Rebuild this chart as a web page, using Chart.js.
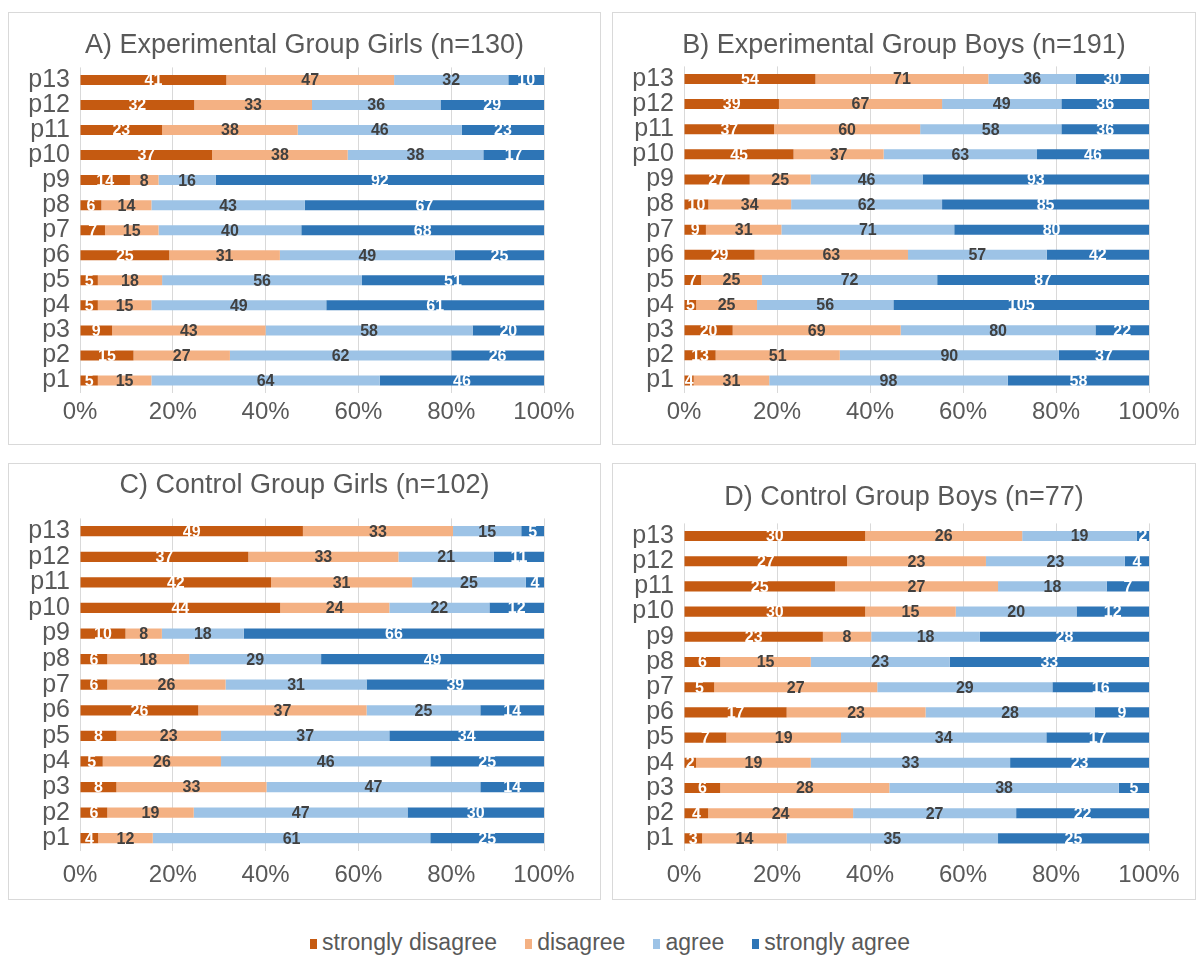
<!DOCTYPE html>
<html>
<head>
<meta charset="utf-8">
<script src="https://cdn.jsdelivr.net/npm/chart.js@4.4.1/dist/chart.umd.min.js"></script>
<style>
  body { margin: 0; background: #fff; width: 1196px; height: 956px; position: relative; overflow: hidden;
         font-family: "Liberation Sans", Arial, sans-serif; }
  .panel { position: absolute; border: 1px solid #d9d9d9; box-sizing: border-box; }
  .panel canvas { display: block; }
  #legend { position: absolute; left: 0; width: 1220px; top: 929px; display: flex; justify-content: center;
            gap: 28px; font-size: 23px; color: #595959; }
  #legend span.key { display: inline-block; width: 7px; height: 10px; margin-right: 5px; vertical-align: 1px; }
</style>
</head>
<body>
<div class="panel" id="pA" style="left:8px;top:12px;width:593px;height:433px"><canvas id="cA" width="591" height="431"></canvas></div>
<div class="panel" id="pB" style="left:612px;top:12px;width:584px;height:433px"><canvas id="cB" width="582" height="431"></canvas></div>
<div class="panel" id="pC" style="left:8px;top:463px;width:593px;height:437px"><canvas id="cC" width="591" height="435"></canvas></div>
<div class="panel" id="pD" style="left:612px;top:463px;width:584px;height:437px"><canvas id="cD" width="582" height="435"></canvas></div>
<div id="legend"></div>
<script>
// items p1..p13 (p1 drawn at the bottom)
const items = ['p1', 'p2', 'p3', 'p4', 'p5', 'p6', 'p7', 'p8', 'p9', 'p10', 'p11', 'p12', 'p13'];
const answers = ['strongly disagree', 'disagree', 'agree', 'strongly agree'];
const xTicks = [0, 20, 40, 60, 80, 100];

// A) Experimental Group Girls (n=130)
const expGirlsSD = [5, 15, 9, 5, 5, 25, 7, 6, 14, 37, 23, 32, 41];
const expGirlsD  = [15, 27, 43, 15, 18, 31, 15, 14, 8, 38, 38, 33, 47];
const expGirlsA  = [64, 62, 58, 49, 56, 49, 40, 43, 16, 38, 46, 36, 32];
const expGirlsSA = [46, 26, 20, 61, 51, 25, 68, 67, 92, 17, 23, 29, 10];

// B) Experimental Group Boys (n=191)
const expBoysSD = [4, 13, 20, 5, 7, 29, 9, 10, 27, 45, 37, 39, 54];
const expBoysD  = [31, 51, 69, 25, 25, 63, 31, 34, 25, 37, 60, 67, 71];
const expBoysA  = [98, 90, 80, 56, 72, 57, 71, 62, 46, 63, 58, 49, 36];
const expBoysSA = [58, 37, 22, 105, 87, 42, 80, 85, 93, 46, 36, 36, 30];

// C) Control Group Girls (n=102)
const ctlGirlsSD = [4, 6, 8, 5, 8, 26, 6, 6, 10, 44, 42, 37, 49];
const ctlGirlsD  = [12, 19, 33, 26, 23, 37, 26, 18, 8, 24, 31, 33, 33];
const ctlGirlsA  = [61, 47, 47, 46, 37, 25, 31, 29, 18, 22, 25, 21, 15];
const ctlGirlsSA = [25, 30, 14, 25, 34, 14, 39, 49, 66, 12, 4, 11, 5];

// D) Control Group Boys (n=77)
const ctlBoysSD = [3, 4, 6, 2, 7, 17, 5, 6, 23, 30, 25, 27, 30];
const ctlBoysD  = [14, 24, 28, 19, 19, 23, 27, 15, 8, 15, 27, 23, 26];
const ctlBoysA  = [35, 27, 38, 33, 34, 28, 29, 23, 18, 20, 18, 23, 19];
const ctlBoysSA = [25, 22, 5, 23, 17, 9, 16, 33, 28, 12, 7, 4, 2];

const fills = ['#C55A11', '#F4B183', '#9DC3E6', '#2E75B6'];
const inkColors = ['#ffffff', '#404040', '#404040', '#ffffff'];
const FONT = '"Liberation Sans", Arial, sans-serif';

// writes the raw count in the middle of each segment
const countLabels = {
  id: 'countLabels',
  afterDatasetsDraw(chart) {
    const ctx = chart.ctx;
    ctx.save();
    ctx.font = 'bold 16px ' + FONT;
    ctx.textAlign = 'center';
    ctx.textBaseline = 'middle';
    chart.data.datasets.forEach((ds, di) => {
      ctx.fillStyle = inkColors[di];
      chart.getDatasetMeta(di).data.forEach((bar, i) => {
        const p = bar.getProps(['x', 'y', 'base'], true);
        ctx.fillText(String(ds.counts[i]), (p.x + p.base) / 2, p.y + 1);
      });
    });
    ctx.restore();
  }
};

function makeChart(id, title, series, lay) {
  const totals = items.map((_, i) => series.reduce((s, arr) => s + arr[i], 0));
  const datasets = series.map((arr, k) => ({
    label: answers[k],
    data: arr.map((v, i) => v / totals[i] * 100),
    counts: arr,
    backgroundColor: fills[k],
    borderWidth: 0,
    barPercentage: 0.4,
    categoryPercentage: 1
  }));
  return new Chart(document.getElementById(id), {
    type: 'bar',
    data: { labels: items, datasets: datasets },
    options: {
      indexAxis: 'y',
      responsive: false,
      animation: false,
      layout: { padding: { left: 0, right: 0, top: 0, bottom: lay.bottom } },
      plugins: {
        legend: { display: false },
        tooltip: { enabled: false },
        title: {
          display: true,
          text: title,
          color: '#595959',
          font: { family: FONT, size: 27, weight: 'normal' },
          padding: { top: lay.titleTop, bottom: lay.titleBottom }
        }
      },
      scales: {
        x: {
          stacked: true,
          min: 0,
          max: 100,
          afterBuildTicks: (s) => { s.ticks = xTicks.map(v => ({ value: v })); },
          afterFit: (s) => { s.paddingRight = lay.right; s.height = 34; },
          ticks: { color: '#595959', font: { family: FONT, size: 24 }, padding: lay.tickPad,
                   callback: (v) => v + '%', maxRotation: 0 },
          grid: { color: '#D9D9D9', lineWidth: 1, drawTicks: false },
          border: { display: false }
        },
        y: {
          stacked: true,
          reverse: true,
          afterFit: (s) => { s.width = 71; },
          ticks: { color: '#595959', font: { family: FONT, size: 25 }, padding: 10, autoSkip: false },
          grid: { display: false, drawTicks: false },
          border: { display: false }
        }
      }
    },
    plugins: [countLabels]
  });
}

makeChart('cA', 'A) Experimental Group Girls (n=130)',
  [expGirlsSD, expGirlsD, expGirlsA, expGirlsSA],
  { right: 56, bottom: 17, titleTop: 16, titleBottom: 6, tickPad: 5 });
makeChart('cB', 'B) Experimental Group Boys (n=191)',
  [expBoysSD, expBoysD, expBoysA, expBoysSA],
  { right: 46, bottom: 17, titleTop: 16, titleBottom: 5, tickPad: 5 });
makeChart('cC', 'C) Control Group Girls (n=102)',
  [ctlGirlsSD, ctlGirlsD, ctlGirlsA, ctlGirlsSA],
  { right: 56, bottom: 14, titleTop: 5, titleBottom: 17, tickPad: 10 });
makeChart('cD', 'D) Control Group Boys (n=77)',
  [ctlBoysSD, ctlBoysD, ctlBoysA, ctlBoysSA],
  { right: 46, bottom: 14, titleTop: 17, titleBottom: 10, tickPad: 10 });

// shared legend under the four panels
const legend = document.getElementById('legend');
answers.forEach((name, k) => {
  const item = document.createElement('div');
  item.innerHTML = '<span class="key" style="background:' + fills[k] + '"></span>' + name;
  legend.appendChild(item);
});
</script>
</body>
</html>
